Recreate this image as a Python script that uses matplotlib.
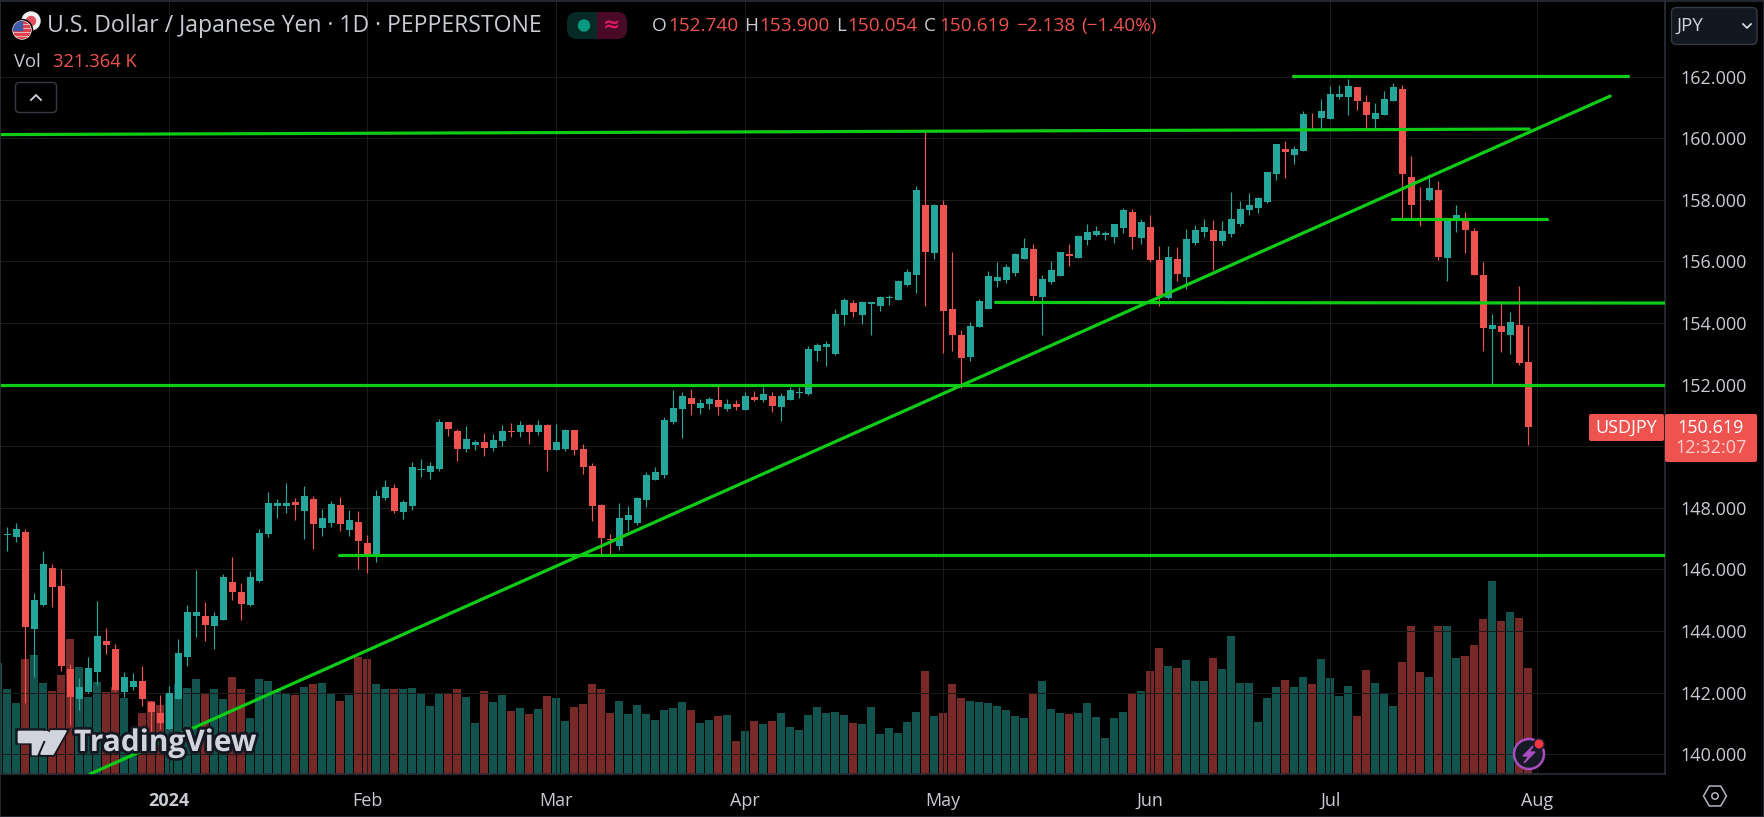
"""USD/JPY daily candles with volume and hand-drawn support lines, TradingView dark look."""

import matplotlib
matplotlib.use("Agg")
import matplotlib.pyplot as plt
import matplotlib.patheffects as pe
from matplotlib.patches import Circle, FancyBboxPatch, Polygon, Rectangle, RegularPolygon

# daily OHLC
opens = [
    147.11, 147.07, 147.23, 144.07, 144.85, 146.06, 145.47, 142.77, 141.80, 142.03,
    142.68, 143.68, 143.42, 142.03, 142.19, 142.38, 141.70, 141.34, 140.82, 141.80,
    143.16, 144.50, 144.50, 144.17, 144.37, 145.60, 145.28, 144.85, 145.63, 147.16,
    148.07, 148.07, 148.20, 147.91, 148.30, 147.36, 147.52, 148.10, 147.29, 147.55,
    146.87, 146.41, 148.33, 148.66, 147.88, 148.07, 149.24, 149.18, 149.27, 150.79,
    150.50, 149.91, 150.04, 150.14, 149.95, 150.17, 150.50, 150.47, 150.69, 150.47,
    150.69, 149.88, 149.91, 150.53, 149.91, 149.36, 148.09, 146.99, 146.76, 147.61,
    147.51, 148.26, 148.91, 149.07, 150.79, 151.21, 151.57, 151.25, 151.38, 151.51,
    151.21, 151.38, 151.18, 151.60, 151.51, 151.64, 151.28, 151.51, 151.74, 151.70,
    153.09, 153.22, 153.00, 154.26, 154.65, 154.26, 154.63, 154.56, 154.82, 154.75,
    155.24, 155.56, 157.84, 156.28, 157.84, 154.46, 153.61, 152.90, 153.87, 154.46,
    155.37, 155.40, 155.63, 156.08, 156.41, 154.85, 155.34, 155.53, 156.25, 156.12,
    156.70, 156.86, 156.86, 156.80, 157.09, 157.61, 156.77, 157.12, 156.05, 154.82,
    156.08, 155.50, 156.61, 156.97, 157.03, 156.67, 156.90, 157.23, 157.68, 157.75,
    157.94, 158.85, 159.66, 159.47, 159.60, 160.77, 160.67, 160.64, 161.35, 161.35,
    161.65, 161.19, 160.64, 160.74, 161.22, 161.61, 158.75, 158.07, 158.01, 158.33,
    156.12, 157.33, 157.39, 157.00, 155.57, 153.81, 153.91, 153.62, 153.94, 152.74,
]
highs = [
    147.39, 147.51, 147.31, 145.23, 146.60, 146.19, 146.01, 142.93, 142.48, 143.16,
    144.98, 144.11, 143.59, 142.68, 142.63, 142.87, 141.72, 141.93, 142.22, 143.75,
    144.85, 145.99, 144.95, 144.63, 145.86, 146.41, 145.57, 145.96, 147.31, 148.53,
    148.30, 148.82, 148.33, 148.72, 148.40, 147.97, 148.23, 148.36, 147.94, 147.91,
    147.13, 148.59, 148.92, 148.79, 148.27, 149.50, 149.60, 149.50, 150.90, 150.79,
    150.56, 150.66, 150.21, 150.43, 150.40, 150.69, 150.76, 150.82, 150.73, 150.86,
    150.73, 150.73, 150.56, 150.53, 150.08, 149.46, 148.13, 147.15, 148.16, 148.06,
    148.36, 149.17, 149.33, 150.95, 151.83, 151.77, 151.86, 151.54, 151.60, 151.96,
    151.54, 151.51, 151.77, 151.80, 151.94, 151.77, 151.73, 151.93, 151.93, 153.26,
    153.35, 153.42, 154.46, 154.82, 154.75, 154.72, 154.69, 154.88, 154.91, 155.40,
    155.76, 158.46, 160.24, 157.87, 158.00, 156.31, 153.78, 154.04, 154.78, 155.69,
    155.99, 155.92, 156.28, 156.77, 156.57, 155.56, 156.02, 156.31, 156.57, 156.86,
    157.22, 157.16, 156.99, 157.22, 157.74, 157.71, 157.38, 157.51, 156.51, 156.51,
    156.47, 157.06, 157.19, 157.39, 157.36, 157.32, 158.27, 157.97, 158.23, 158.10,
    158.92, 159.83, 159.92, 159.76, 160.87, 160.83, 161.29, 161.71, 161.74, 161.94,
    161.68, 161.39, 161.13, 161.52, 161.81, 161.74, 159.44, 158.43, 158.85, 158.62,
    157.39, 157.84, 157.62, 157.10, 155.99, 154.30, 154.72, 154.37, 155.21, 153.90,
]
lows = [
    146.59, 146.90, 141.66, 142.52, 144.83, 144.77, 142.69, 140.95, 141.44, 141.98,
    142.25, 143.26, 142.06, 141.86, 142.10, 141.57, 140.68, 140.82, 140.79, 141.80,
    142.87, 143.81, 143.68, 143.42, 144.35, 145.02, 144.37, 144.83, 145.61, 147.05,
    147.68, 147.84, 147.62, 147.00, 146.67, 147.10, 147.39, 147.26, 147.10, 146.02,
    145.89, 146.25, 148.27, 147.84, 147.65, 147.94, 149.01, 148.95, 149.21, 150.34,
    149.52, 149.82, 149.88, 149.69, 149.85, 150.01, 150.30, 150.30, 150.08, 150.37,
    149.20, 149.88, 149.85, 149.72, 149.10, 147.57, 146.47, 146.50, 146.63, 147.25,
    147.44, 148.03, 148.91, 148.97, 150.73, 150.27, 151.02, 151.05, 151.21, 151.02,
    151.15, 151.18, 151.18, 151.47, 151.44, 151.12, 150.82, 151.51, 151.57, 151.66,
    152.77, 152.61, 152.96, 153.94, 154.20, 153.97, 153.61, 154.39, 154.59, 154.75,
    155.21, 154.98, 154.56, 156.08, 153.03, 153.09, 151.89, 152.77, 153.87, 154.46,
    155.17, 155.30, 155.53, 156.08, 154.72, 153.61, 155.27, 155.53, 155.86, 156.12,
    156.54, 156.83, 156.70, 156.60, 156.93, 156.41, 156.57, 155.99, 154.56, 154.78,
    155.37, 155.11, 156.54, 156.80, 155.73, 156.54, 156.80, 157.16, 157.52, 157.58,
    157.91, 158.66, 158.72, 159.18, 159.60, 160.28, 160.28, 160.64, 161.26, 160.77,
    160.93, 160.28, 160.28, 160.74, 161.22, 157.42, 157.36, 157.16, 157.97, 156.06,
    155.37, 156.97, 156.29, 155.57, 153.10, 151.96, 153.07, 153.00, 152.64, 150.05,
]
closes = [
    147.15, 147.32, 144.12, 145.02, 146.19, 145.44, 142.87, 141.86, 142.19, 142.81,
    143.85, 143.55, 142.09, 142.51, 142.38, 141.80, 141.37, 141.02, 141.99, 143.29,
    144.63, 144.63, 144.20, 144.50, 145.77, 145.28, 144.89, 145.77, 147.19, 148.17,
    148.17, 148.17, 148.10, 148.40, 147.49, 147.68, 148.14, 147.49, 147.62, 146.93,
    146.41, 148.40, 148.69, 147.91, 148.20, 149.34, 149.27, 149.37, 150.80, 150.56,
    149.91, 150.24, 150.14, 149.95, 150.21, 150.50, 150.48, 150.69, 150.47, 150.69,
    149.88, 150.14, 150.53, 149.88, 149.33, 148.06, 147.02, 146.96, 147.67, 147.77,
    148.32, 149.07, 149.17, 150.86, 151.25, 151.64, 151.38, 151.41, 151.54, 151.28,
    151.38, 151.28, 151.64, 151.51, 151.70, 151.31, 151.64, 151.83, 151.77, 153.16,
    153.29, 153.32, 154.30, 154.75, 154.36, 154.69, 154.67, 154.85, 154.85, 155.37,
    155.66, 158.33, 156.31, 157.84, 154.39, 153.61, 152.87, 153.91, 154.72, 155.53,
    155.50, 155.82, 156.25, 156.44, 154.88, 155.43, 155.73, 156.31, 156.18, 156.83,
    156.96, 156.99, 156.93, 157.22, 157.68, 156.80, 157.29, 156.05, 154.88, 156.15,
    155.60, 156.74, 157.03, 157.13, 156.67, 157.00, 157.39, 157.71, 157.84, 158.07,
    158.92, 159.83, 159.57, 159.66, 160.80, 160.74, 160.90, 161.45, 161.45, 161.71,
    161.22, 160.77, 160.83, 161.29, 161.68, 158.85, 157.84, 158.05, 158.40, 156.16,
    157.36, 157.52, 157.03, 155.57, 153.85, 153.94, 153.71, 154.04, 152.71, 150.62,
]
# volume in thousands, same candles
volumes = [
    258, 215, 348, 361, 276, 251, 300, 409, 324, 233,
    279, 248, 264, 230, 90, 185, 221, 209, 245, 273,
    261, 288, 245, 258, 227, 294, 258, 170, 288, 282,
    255, 245, 239, 264, 273, 276, 242, 221, 239, 355,
    348, 273, 258, 258, 258, 261, 242, 206, 245, 242,
    258, 233, 155, 251, 218, 239, 191, 200, 182, 197,
    236, 230, 161, 203, 212, 273, 258, 185, 221, 182,
    209, 182, 164, 194, 200, 218, 194, 155, 164, 176,
    179, 100, 130, 161, 152, 161, 185, 142, 133, 179,
    203, 185, 188, 179, 155, 152, 203, 121, 139, 124,
    158, 188, 312, 176, 185, 273, 230, 221, 218, 215,
    206, 194, 176, 170, 245, 282, 197, 185, 182, 185,
    215, 173, 109, 170, 188, 245, 251, 312, 382, 327,
    321, 345, 282, 282, 351, 318, 418, 276, 276, 158,
    230, 264, 285, 264, 294, 273, 348, 291, 236, 267,
    176, 315, 276, 245, 206, 339, 448, 309, 294, 448,
    448, 351, 358, 391, 470, 585, 464, 491, 473, 321,
]
prev_volume = 336  # bar cut off by the left edge

month_pos = [18, 40, 61, 82, 104, 127, 147, 170]
month_labels = ["2024", "Feb", "Mar", "Apr", "May", "Jun", "Jul", "Aug"]
price_ticks = [140, 142, 144, 146, 148, 150, 152, 154, 156, 158, 160, 162]

# drawn lines: (bar start, price start, bar end, price end)
lines_drawn = [
    (142.9, 162.03, 180.1, 162.03),
    (-0.8, 160.12, 169.1, 160.30),
    (9.2, 139.36, 178.1, 161.37),
    (153.9, 157.39, 171.1, 157.39),
    (109.8, 154.67, 184.2, 154.65),
    (-0.8, 151.98, 184.2, 151.98),
    (36.9, 146.48, 184.2, 146.48),
]

BG = "#000000"
UP = "#26a69a"
DOWN = "#ef5350"
LINE = "#0fcc16"
GRID = "#1b1b1b"
BORDER = "#2a2e39"
TEXT = "#c8cbd3"

W, H = 1765, 817
PANE_R, PANE_B = 1665, 774

plt.rcParams["font.family"] = ["Open Sans", "DejaVu Sans"]

fig = plt.figure(figsize=(W / 100, H / 100), dpi=100, facecolor=BG)
rect = [0, 1 - PANE_B / H, PANE_R / W, PANE_B / H]

ax_vol = fig.add_axes(rect, zorder=1)
ax_vol.set_facecolor(BG)
ax = fig.add_axes(rect, zorder=2, sharex=ax_vol)
ax.patch.set_alpha(0)

ax.set_xlim(-0.811, 184.19)
ax.set_ylim(139.36, 164.49)
ax_vol.set_ylim(0, 2342)
ax_vol.axis("off")

n = len(closes)
xs = list(range(n))
col = [UP if c >= o else DOWN for o, c in zip(opens, closes)]

ax_vol.bar([-1], [prev_volume], width=0.88, color=UP, alpha=0.5, linewidth=0)
ax_vol.bar(xs, volumes, width=0.88, color=col, alpha=0.5, linewidth=0)

ax.set_axisbelow(True)
ax.grid(True, color=GRID, linewidth=0.72)
ax.vlines(xs, lows, highs, colors=col, linewidth=0.85, zorder=3)
ax.bar(xs, [abs(c - o) for o, c in zip(opens, closes)],
       bottom=[min(o, c) for o, c in zip(opens, closes)],
       width=0.78, color=col, linewidth=0, zorder=4)

for x0, y0, x1, y1 in lines_drawn:
    ax.plot([x0, x1], [y0, y1], color=LINE, linewidth=2.3, zorder=5,
            solid_capstyle="round")

ax.yaxis.tick_right()
ax.set_yticks(price_ticks)
# 150 sits under the last-price tag
ax.set_yticklabels(["" if p == 150 else f"{p:.3f}" for p in price_ticks])
ax.set_xticks(month_pos)
ax.set_xticklabels(month_labels)
ax.tick_params(axis="both", length=0, colors=TEXT, labelsize=13)
ax.tick_params(axis="y", pad=11)
ax.tick_params(axis="x", pad=13)
ax.get_xticklabels()[0].set_fontweight("bold")
for s in ("top", "left"):
    ax.spines[s].set_visible(False)
for s in ("right", "bottom"):
    ax.spines[s].set_color(BORDER)
    ax.spines[s].set_linewidth(1.2)

# overlay in screen pixels for the chart chrome
ov = fig.add_axes([0, 0, 1, 1], zorder=10)
ov.set_xlim(0, W)
ov.set_ylim(H, 0)
ov.axis("off")
ov.patch.set_alpha(0)

ov.add_patch(Rectangle((0.5, 0.5), W - 1, H - 1, fill=False, edgecolor=BORDER, linewidth=1.2))

# flags
ov.add_patch(Circle((31, 21), 9, color="#f2f2f2"))
ov.add_patch(Circle((31, 21), 4.5, color="#e0505c"))
ov.add_patch(Circle((22, 30), 10.5, color=BG))
us = Circle((22, 30), 9, color="#f2f2f2")
ov.add_patch(us)
for yy in (22, 26, 30, 34, 38):
    ov.add_patch(Rectangle((12, yy - 1), 20, 2.2, color="#e0404c", clip_path=us))
ov.add_patch(Rectangle((12, 20), 10, 10, color="#3b5ba9", clip_path=us))

ov.text(47, 26, "U.S. Dollar / Japanese Yen · 1D · PEPPERSTONE", color=TEXT, fontsize=16.6,
        ha="left", va="center")

# status pill
pill = FancyBboxPatch((567, 12), 60, 27, boxstyle="round,pad=0,rounding_size=10",
                      facecolor="#072a26", edgecolor="none")
ov.add_patch(pill)
ov.add_patch(Rectangle((597, 12), 30, 27, facecolor="#490a26", edgecolor="none", clip_path=pill))
ov.add_patch(Circle((584, 25.5), 5.5, color="#089981"))
ov.text(612, 25, "≈", color="#d81b60", fontsize=15, ha="center", va="center",
        family="DejaVu Sans", fontweight="bold")

hdr = [(652, "O", TEXT), (668, "152.740", DOWN), (744, "H", TEXT), (759, "153.900", DOWN),
       (836, "L", TEXT), (847, "150.054", DOWN), (924, "C", TEXT), (939, "150.619", DOWN),
       (1016, "−2.138", DOWN), (1081, "(−1.40%)", DOWN)]
for hx, txt, c in hdr:
    ov.text(hx, 25.5, txt, color=c, fontsize=13.7, ha="left", va="center")

ov.text(14, 62, "Vol", color=TEXT, fontsize=13.2, ha="left", va="center")
ov.text(53, 62, "321.364 K", color=DOWN, fontsize=13.2, ha="left", va="center")

ov.add_patch(FancyBboxPatch((15.5, 82.5), 41, 30, boxstyle="round,pad=0,rounding_size=4",
                            facecolor=BG, edgecolor="#363a45", linewidth=1))
ov.plot([31, 36, 41], [100, 95, 100], color="#d1d4dc", linewidth=1.3)

# currency box
ov.add_patch(FancyBboxPatch((1671.5, 7.5), 85.5, 37, boxstyle="round,pad=0,rounding_size=5",
                            facecolor="#131722", edgecolor="#363a45", linewidth=1))
ov.text(1677, 25.5, "JPY", color="#d1d4dc", fontsize=13.5, ha="left", va="center")
ov.plot([1743, 1747, 1751], [24, 28, 24], color="#d1d4dc", linewidth=1.3)

# last price tags
ov.add_patch(FancyBboxPatch((1589, 414), 75, 27, boxstyle="round,pad=0,rounding_size=2",
                            facecolor=DOWN, edgecolor="none"))
ov.add_patch(FancyBboxPatch((1665, 414), 92, 48, boxstyle="round,pad=0,rounding_size=2",
                            facecolor=DOWN, edgecolor="none"))
ov.text(1626, 427.5, "USDJPY", color="white", fontsize=13, ha="center", va="center")
ov.text(1711, 427.5, "150.619", color="white", fontsize=13, ha="center", va="center")
ov.text(1711, 448, "12:32:07", color="#fbd0ce", fontsize=13, ha="center", va="center")

# settings hexagon
ov.add_patch(RegularPolygon((1715, 796), 6, radius=11.5, orientation=0.5236, fill=False,
                            edgecolor="#b2b5be", linewidth=1.1))
ov.add_patch(Circle((1715, 796), 3.2, fill=False, edgecolor="#b2b5be", linewidth=1.1))

# bolt badge
ov.add_patch(Circle((1529, 754), 15, facecolor="#161a25", edgecolor="#a94dc1", linewidth=1.8))
ov.add_patch(Polygon([(1534, 745), (1523, 756), (1529, 756), (1524, 763), (1535, 752),
                      (1529, 752)], color="#a94dc1"))
ov.add_patch(Circle((1539, 744), 5.5, color="#161a25"))
ov.add_patch(Circle((1539, 744), 3.8, color="#f23645"))

# watermark
halo = [pe.withStroke(linewidth=4, foreground="#131722")]
LOGO = "#d1d4dc"
for patch in (
    Polygon([(18, 731), (43, 731), (43, 754), (32, 754), (32, 742), (18, 742)], color=LOGO),
    Polygon([(51, 731), (66, 731), (53, 754), (41, 754)], color=LOGO),
):
    patch.set_path_effects(halo + [pe.Normal()])
    ov.add_patch(patch)
ov.add_patch(Circle((46, 736), 4.5, color=LOGO))
ov.text(74, 743, "TradingView", color=LOGO, fontsize=21.5, fontweight="bold", ha="left",
        va="center", path_effects=halo)

fig.savefig("out.png", dpi=100, facecolor=BG)
